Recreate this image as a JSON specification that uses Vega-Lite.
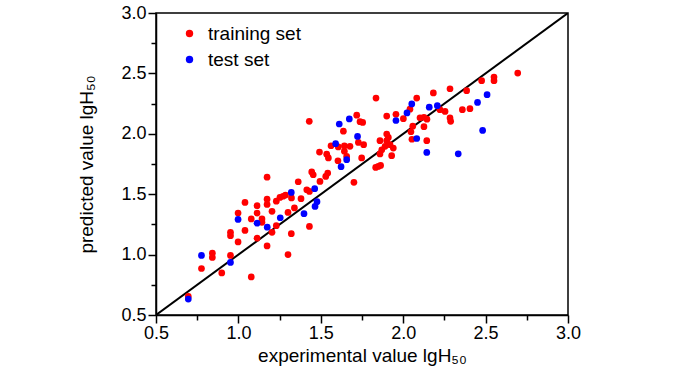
{
  "$schema": "https://vega.github.io/schema/vega-lite/v6.json",
  "autosize": "none",
  "width": 412,
  "height": 302,
  "padding": {"left": 156, "top": 13, "right": 132, "bottom": 60},
  "background": "white",
  "config": {
    "font": "Liberation Sans",
    "view": {"stroke": "black", "strokeWidth": 1.5},
    "axis": {"grid": false, "domainColor": "black", "domainWidth": 1.5, "tickColor": "black", "tickWidth": 1.5, "labelColor": "black", "titleColor": "black", "labelFont": "Liberation Sans", "titleFont": "Liberation Sans", "titleFontWeight": "normal", "labelFlush": false, "labelOverlap": false, "labelBound": false}
  },
  "datasets": {
    "pts": [
      {"e": 0.696, "p": 0.654, "set": "training set"},
      {"e": 0.776, "p": 0.885, "set": "training set"},
      {"e": 0.842, "p": 1.012, "set": "training set"},
      {"e": 0.842, "p": 0.977, "set": "training set"},
      {"e": 0.899, "p": 0.848, "set": "training set"},
      {"e": 0.952, "p": 0.993, "set": "training set"},
      {"e": 0.952, "p": 1.184, "set": "training set"},
      {"e": 0.952, "p": 1.157, "set": "training set"},
      {"e": 0.998, "p": 1.105, "set": "training set"},
      {"e": 0.998, "p": 1.344, "set": "training set"},
      {"e": 1.040, "p": 1.432, "set": "training set"},
      {"e": 1.040, "p": 1.200, "set": "training set"},
      {"e": 1.078, "p": 0.815, "set": "training set"},
      {"e": 1.078, "p": 1.295, "set": "training set"},
      {"e": 1.113, "p": 1.405, "set": "training set"},
      {"e": 1.113, "p": 1.344, "set": "training set"},
      {"e": 1.113, "p": 1.136, "set": "training set"},
      {"e": 1.143, "p": 1.295, "set": "training set"},
      {"e": 1.143, "p": 1.267, "set": "training set"},
      {"e": 1.174, "p": 1.641, "set": "training set"},
      {"e": 1.174, "p": 1.459, "set": "training set"},
      {"e": 1.174, "p": 1.415, "set": "training set"},
      {"e": 1.174, "p": 1.072, "set": "training set"},
      {"e": 1.204, "p": 1.358, "set": "training set"},
      {"e": 1.204, "p": 1.184, "set": "training set"},
      {"e": 1.230, "p": 1.442, "set": "training set"},
      {"e": 1.230, "p": 1.239, "set": "training set"},
      {"e": 1.252, "p": 1.473, "set": "training set"},
      {"e": 1.271, "p": 1.483, "set": "training set"},
      {"e": 1.286, "p": 1.493, "set": "training set"},
      {"e": 1.322, "p": 1.469, "set": "training set"},
      {"e": 1.301, "p": 1.349, "set": "training set"},
      {"e": 1.321, "p": 1.173, "set": "training set"},
      {"e": 1.301, "p": 1.000, "set": "training set"},
      {"e": 1.340, "p": 1.386, "set": "training set"},
      {"e": 1.363, "p": 1.603, "set": "training set"},
      {"e": 1.380, "p": 1.463, "set": "training set"},
      {"e": 1.415, "p": 1.537, "set": "training set"},
      {"e": 1.431, "p": 1.523, "set": "training set"},
      {"e": 1.431, "p": 1.233, "set": "training set"},
      {"e": 1.445, "p": 1.684, "set": "training set"},
      {"e": 1.454, "p": 1.661, "set": "training set"},
      {"e": 1.430, "p": 2.103, "set": "training set"},
      {"e": 1.492, "p": 1.849, "set": "training set"},
      {"e": 1.536, "p": 1.831, "set": "training set"},
      {"e": 1.546, "p": 1.800, "set": "training set"},
      {"e": 1.562, "p": 1.901, "set": "training set"},
      {"e": 1.606, "p": 1.891, "set": "training set"},
      {"e": 1.643, "p": 1.901, "set": "training set"},
      {"e": 1.677, "p": 1.896, "set": "training set"},
      {"e": 1.643, "p": 1.856, "set": "training set"},
      {"e": 1.604, "p": 1.777, "set": "training set"},
      {"e": 1.542, "p": 1.675, "set": "training set"},
      {"e": 1.530, "p": 1.647, "set": "training set"},
      {"e": 1.495, "p": 1.606, "set": "training set"},
      {"e": 1.637, "p": 2.022, "set": "training set"},
      {"e": 1.718, "p": 2.154, "set": "training set"},
      {"e": 1.738, "p": 2.100, "set": "training set"},
      {"e": 1.754, "p": 2.094, "set": "training set"},
      {"e": 1.728, "p": 1.929, "set": "training set"},
      {"e": 1.748, "p": 1.800, "set": "training set"},
      {"e": 1.657, "p": 1.813, "set": "training set"},
      {"e": 1.701, "p": 1.598, "set": "training set"},
      {"e": 1.760, "p": 1.910, "set": "training set"},
      {"e": 1.835, "p": 2.296, "set": "training set"},
      {"e": 1.900, "p": 2.147, "set": "training set"},
      {"e": 1.956, "p": 2.162, "set": "training set"},
      {"e": 2.001, "p": 2.125, "set": "training set"},
      {"e": 2.041, "p": 2.204, "set": "training set"},
      {"e": 2.082, "p": 2.296, "set": "training set"},
      {"e": 2.102, "p": 2.133, "set": "training set"},
      {"e": 2.126, "p": 2.137, "set": "training set"},
      {"e": 2.144, "p": 2.121, "set": "training set"},
      {"e": 2.058, "p": 2.063, "set": "training set"},
      {"e": 2.126, "p": 2.059, "set": "training set"},
      {"e": 2.047, "p": 2.017, "set": "training set"},
      {"e": 2.053, "p": 1.955, "set": "training set"},
      {"e": 2.143, "p": 1.943, "set": "training set"},
      {"e": 1.900, "p": 1.998, "set": "training set"},
      {"e": 1.910, "p": 1.970, "set": "training set"},
      {"e": 1.900, "p": 1.943, "set": "training set"},
      {"e": 1.859, "p": 1.943, "set": "training set"},
      {"e": 1.920, "p": 1.910, "set": "training set"},
      {"e": 1.890, "p": 1.896, "set": "training set"},
      {"e": 1.940, "p": 1.882, "set": "training set"},
      {"e": 1.870, "p": 1.868, "set": "training set"},
      {"e": 1.859, "p": 1.833, "set": "training set"},
      {"e": 1.930, "p": 1.819, "set": "training set"},
      {"e": 1.833, "p": 1.722, "set": "training set"},
      {"e": 1.849, "p": 1.730, "set": "training set"},
      {"e": 1.863, "p": 1.738, "set": "training set"},
      {"e": 2.183, "p": 2.338, "set": "training set"},
      {"e": 2.223, "p": 2.200, "set": "training set"},
      {"e": 2.254, "p": 2.185, "set": "training set"},
      {"e": 2.284, "p": 2.373, "set": "training set"},
      {"e": 2.284, "p": 2.131, "set": "training set"},
      {"e": 2.288, "p": 2.103, "set": "training set"},
      {"e": 2.359, "p": 2.200, "set": "training set"},
      {"e": 2.405, "p": 2.208, "set": "training set"},
      {"e": 2.385, "p": 2.357, "set": "training set"},
      {"e": 2.476, "p": 2.440, "set": "training set"},
      {"e": 2.551, "p": 2.470, "set": "training set"},
      {"e": 2.551, "p": 2.440, "set": "training set"},
      {"e": 2.695, "p": 2.503, "set": "training set"},
      {"e": 0.696, "p": 0.632, "set": "test set"},
      {"e": 0.776, "p": 0.993, "set": "test set"},
      {"e": 0.952, "p": 0.935, "set": "test set"},
      {"e": 0.998, "p": 1.291, "set": "test set"},
      {"e": 1.113, "p": 1.260, "set": "test set"},
      {"e": 1.175, "p": 1.227, "set": "test set"},
      {"e": 1.254, "p": 1.305, "set": "test set"},
      {"e": 1.321, "p": 1.515, "set": "test set"},
      {"e": 1.398, "p": 1.339, "set": "test set"},
      {"e": 1.463, "p": 1.546, "set": "test set"},
      {"e": 1.477, "p": 1.438, "set": "test set"},
      {"e": 1.465, "p": 1.399, "set": "test set"},
      {"e": 1.623, "p": 1.728, "set": "test set"},
      {"e": 1.657, "p": 1.786, "set": "test set"},
      {"e": 1.612, "p": 2.081, "set": "test set"},
      {"e": 1.673, "p": 2.123, "set": "test set"},
      {"e": 1.723, "p": 1.978, "set": "test set"},
      {"e": 1.590, "p": 1.918, "set": "test set"},
      {"e": 1.956, "p": 2.110, "set": "test set"},
      {"e": 2.023, "p": 2.173, "set": "test set"},
      {"e": 2.052, "p": 2.247, "set": "test set"},
      {"e": 2.158, "p": 2.220, "set": "test set"},
      {"e": 2.207, "p": 2.233, "set": "test set"},
      {"e": 2.082, "p": 1.961, "set": "test set"},
      {"e": 2.143, "p": 1.846, "set": "test set"},
      {"e": 2.334, "p": 1.834, "set": "test set"},
      {"e": 2.451, "p": 2.260, "set": "test set"},
      {"e": 2.509, "p": 2.324, "set": "test set"},
      {"e": 2.482, "p": 2.028, "set": "test set"}
    ],
    "diag": [{"e": 0.5, "p": 0.5}, {"e": 3.0, "p": 3.0}]
  },
  "layer": [
    {
      "data": {"name": "diag"},
      "mark": {"type": "line", "color": "black", "strokeWidth": 2, "clip": true},
      "encoding": {
        "x": {"field": "e", "type": "quantitative", "scale": {"domain": [0.5, 3], "nice": false, "zero": false},
              "axis": {"orient": "bottom", "values": [0.75, 1.25, 1.75, 2.25, 2.75], "labels": false, "tickSize": 5, "domain": false, "title": null}},
        "y": {"field": "p", "type": "quantitative", "scale": {"domain": [0.5, 3], "nice": false, "zero": false},
              "axis": {"orient": "left", "values": [0.75, 1.25, 1.75, 2.25, 2.75], "labels": false, "tickSize": 5, "domain": false, "title": null}}
      }
    },
    {
      "data": {"name": "pts"},
      "mark": {"type": "circle", "size": 45, "opacity": 1},
      "encoding": {
        "x": {"field": "e", "type": "quantitative", "scale": {"domain": [0.5, 3], "nice": false, "zero": false},
              "axis": {"orient": "bottom", "values": [0.5, 1.0, 1.5, 2.0, 2.5, 3.0], "format": ".1f", "tickSize": 8, "labelFontSize": 18, "labelPadding": 1, "title": "experimental value lgH₅₀", "titleFontSize": 19, "titlePadding": 4}},
        "y": {"field": "p", "type": "quantitative", "scale": {"domain": [0.5, 3], "nice": false, "zero": false},
              "axis": {"orient": "left", "values": [0.5, 1.0, 1.5, 2.0, 2.5, 3.0], "format": ".1f", "tickSize": 8, "labelFontSize": 18, "labelPadding": 2, "title": "predicted value lgH₅₀", "titleFontSize": 19, "titlePadding": 24}},
        "color": {"field": "set", "type": "nominal",
                  "scale": {"domain": ["training set", "test set"], "range": ["#ff0000", "#0000ff"]},
                  "legend": {"orient": "none", "legendX": 24, "legendY": 11, "title": null, "symbolType": "circle", "symbolSize": 55, "symbolStrokeWidth": 0, "symbolOpacity": 1, "labelFontSize": 19, "labelColor": "black", "labelOffset": 9, "rowPadding": 6, "padding": 0}}
      }
    }
  ],
  "resolve": {"axis": {"x": "independent", "y": "independent"}}
}
